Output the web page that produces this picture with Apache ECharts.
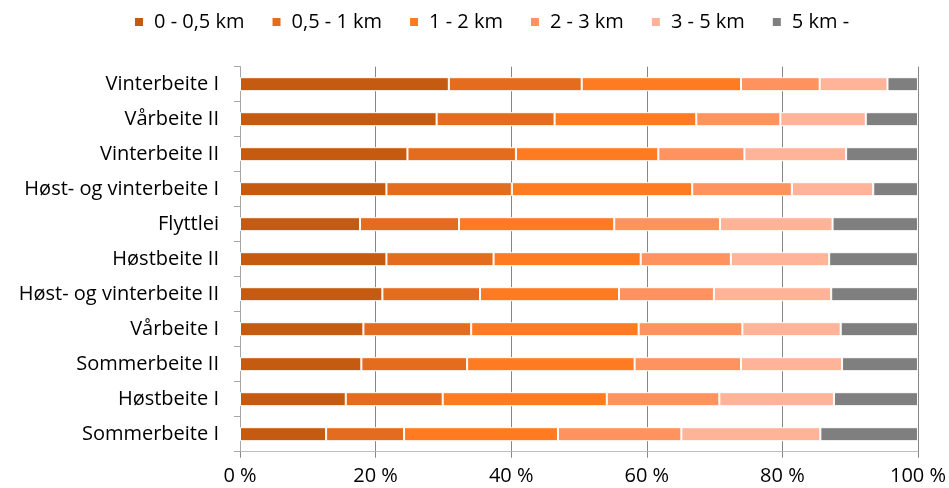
<!DOCTYPE html>
<html><head><meta charset="utf-8">
<script src="https://cdn.jsdelivr.net/npm/echarts@6/dist/echarts.min.js"></script>
<style>html,body{margin:0;padding:0;background:#fff}#c{width:949px;height:488px}</style>
</head><body><div id="c"></div>
<script>
const categories = ["Vinterbeite I","Vårbeite II","Vinterbeite II","Høst- og vinterbeite I","Flyttlei","Høstbeite II","Høst- og vinterbeite II","Vårbeite I","Sommerbeite II","Høstbeite I","Sommerbeite I"];
const seriesNames = ["0 - 0,5 km","0,5 - 1 km","1 - 2 km","2 - 3 km","3 - 5 km","5 km -"];
const d0_05 = [30.8,29.0,24.7,21.6,17.7,21.6,21.0,18.2,17.9,15.6,12.7];
const d05_1 = [19.6,17.4,16.0,18.5,14.6,15.8,14.4,15.9,15.6,14.3,11.5];
const d1_2  = [23.5,20.9,21.0,26.6,22.9,21.7,20.5,24.7,24.7,24.2,22.7];
const d2_3  = [11.6,12.4,12.7,14.7,15.6,13.3,14.0,15.3,15.7,16.6,18.2];
const d3_5  = [10.0,12.6,15.0,12.0,16.6,14.5,17.3,14.5,14.9,16.9,20.5];
const d5    = [4.5,7.7,10.6,6.6,12.6,13.1,12.8,11.4,11.2,12.4,14.4];
const xTicks = [0,20,40,60,80,100];

const colors = ["#C55A11","#E46C1F","#FF7B22","#FF935F","#FFB399","#7F7F7F"];
const allData = [d0_05,d05_1,d1_2,d2_3,d3_5,d5];
const font = "'Open Sans', sans-serif";
const chart = echarts.init(document.getElementById('c'));
chart.setOption({
  animation:false,
  color: colors,
  legend:{top:7,left:128,icon:'rect',itemWidth:10,itemHeight:10,itemGap:26,
    textStyle:{fontFamily:font,fontSize:20,color:'#000',padding:[0,0,0,5]},data:seriesNames},
  grid:{left:240,right:29,top:66.7,bottom:36.3,containLabel:false},
  xAxis:{type:'value',min:xTicks[0],max:xTicks[xTicks.length-1],interval:20,
    axisLine:{show:true,lineStyle:{color:'#BFBFBF',width:1}},
    axisTick:{show:true,length:6,lineStyle:{color:'#868686'}},
    splitLine:{show:true,lineStyle:{color:'#868686',width:1}},
    axisLabel:{formatter:'{value} %',fontFamily:font,fontSize:20,color:'#000',margin:15}},
  yAxis:{type:'category',inverse:true,data:categories,
    axisLine:{show:true,lineStyle:{color:'#A6A6A6',width:1}},
    axisTick:{show:true,length:6,lineStyle:{color:'#A6A6A6'}},
    axisLabel:{fontFamily:font,fontSize:20,color:'#000',margin:21}},
  series: seriesNames.map((n,i)=>({name:n,type:'bar',stack:'s',barWidth:14,
    itemStyle:{color:colors[i],borderColor:'#fff',borderWidth:1},data:allData[i]}))
});
</script></body></html>
